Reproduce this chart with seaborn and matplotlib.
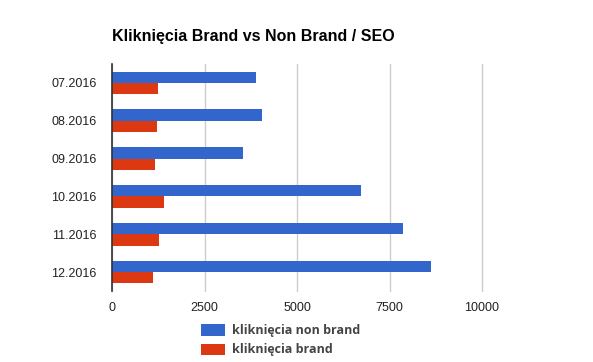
import matplotlib
matplotlib.use("Agg")
import matplotlib.pyplot as plt
from matplotlib.patches import Patch
import pandas as pd
import seaborn as sns

months = ["07.2016", "08.2016", "09.2016", "10.2016", "11.2016", "12.2016"]
non_brand = [3880, 4065, 3530, 6720, 7860, 8610]
brand = [1235, 1210, 1175, 1400, 1260, 1100]
series = ["kliknięcia non brand", "kliknięcia brand"]
colors = ["#3366CC", "#DC3912"]

df = pd.DataFrame({
    "miesiac": months * 2,
    "kliki": non_brand + brand,
    "seria": [series[0]] * len(months) + [series[1]] * len(months),
})

sns.set_style("white")
plt.rcParams["font.family"] = ["Liberation Sans", "DejaVu Sans"]

fig = plt.figure(figsize=(5.93, 3.62), dpi=100)
ax = fig.add_axes([112 / 593, 71 / 362, 370 / 593, 227 / 362])

sns.barplot(
    data=df, y="miesiac", x="kliki", hue="seria", orient="h",
    palette=colors, width=0.6, saturation=1, legend=False, ax=ax,
    linewidth=0, edgecolor="none",
)

ax.set_xlim(0, 10000)
ax.set_xticks([0, 2500, 5000, 7500, 10000])
ax.xaxis.grid(True, color="#cccccc", linewidth=1)
for gl in ax.get_xgridlines():
    gl.set_clip_on(False)  # linia przy 10000 inaczej jest ucięta
ax.set_axisbelow(True)
ax.set_xlabel("")
ax.set_ylabel("")
for s in ["top", "right", "bottom"]:
    ax.spines[s].set_visible(False)
ax.spines["left"].set_color("#333333")
ax.spines["left"].set_linewidth(1.2)
ax.tick_params(axis="both", length=0, labelsize=9, colors="#222222", pad=11)
ax.tick_params(axis="x", pad=8)

fig.text(112 / 593, 1 - 37 / 362, "Kliknięcia Brand vs Non Brand / SEO",
         fontsize=11.5, fontweight="bold", va="center", ha="left", color="#000000")

handles = [Patch(facecolor=c, edgecolor="none") for c in colors]
leg = fig.legend(handles, series, loc="upper left", bbox_to_anchor=(190 / 593, 1 - 313 / 362),
                 frameon=False, handlelength=1.9, handleheight=1.0, handletextpad=0.6,
                 labelspacing=0.5, prop={"family": ["Open Sans", "DejaVu Sans"],
                                         "weight": "bold", "size": 9})
for t in leg.get_texts():
    t.set_color("#444444")

fig.savefig("out.png", dpi=100)
